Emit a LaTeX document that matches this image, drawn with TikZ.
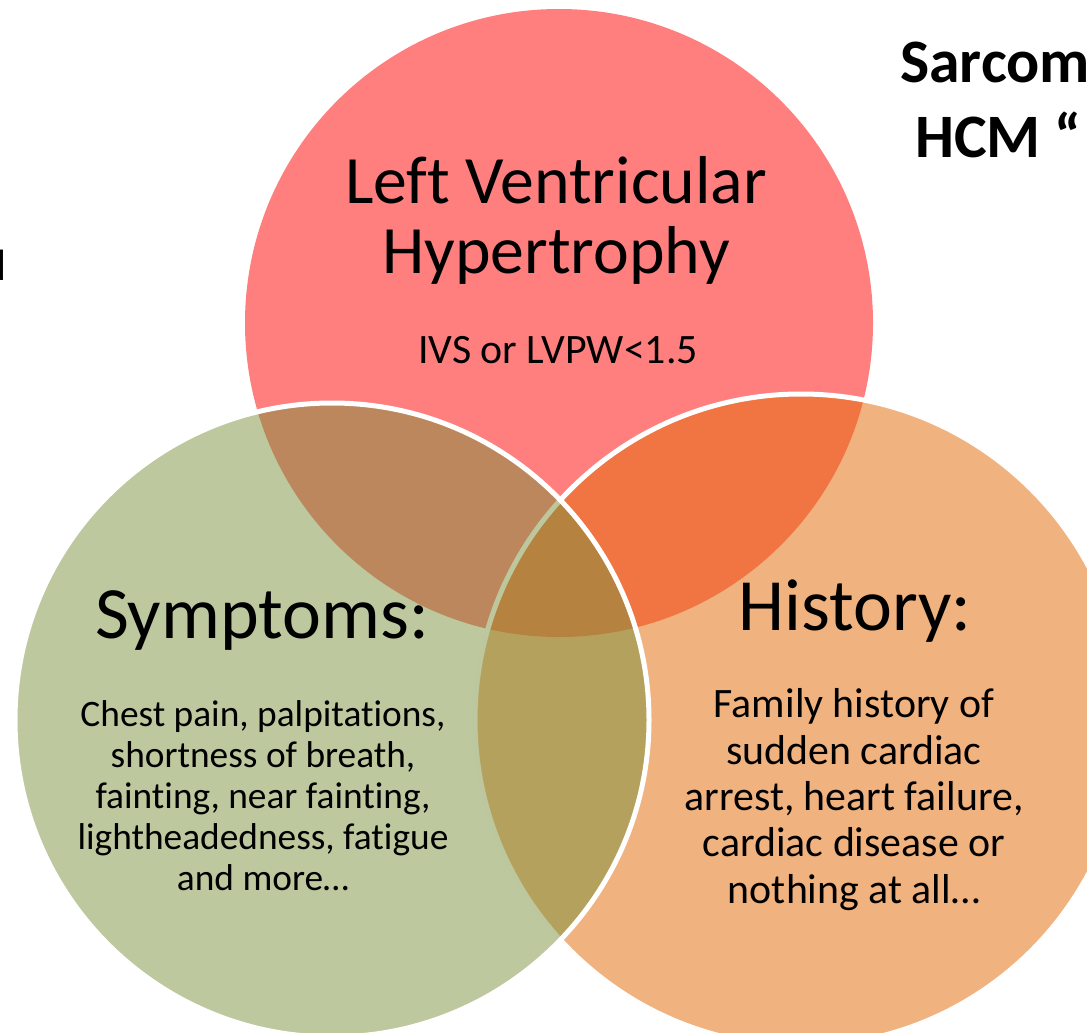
\documentclass[tikz,border=0pt]{standalone}
\usepackage{fontspec}
\setmainfont[Ligatures=NoCommon]{Carlito}
\usepackage{tikz}
\usetikzlibrary{positioning}

\definecolor{lvhred}{RGB}{255,0,0}
\definecolor{historange}{RGB}{227,107,10}
\definecolor{sympgreen}{RGB}{123,145,61}

\begin{document}
\begin{tikzpicture}[x=1bp,y=-1bp,line join=bevel,
  venn/.style={circle,inner sep=0pt,fill opacity=.5},
  heading/.style={inner sep=0pt,anchor=base,align=center,font=\fontsize{74}{80}\selectfont},
  bodytext/.style={inner sep=0pt,anchor=base,align=center,font=\fontsize{37.5}{41}\selectfont}]
\useasboundingbox (0,0) rectangle (1087,1033);
\clip (0,0) rectangle (1087,1033);
%%
  % Node: lvh
  \node[venn,minimum size=628bp,fill=lvhred] (lvh) at (559,323) {};
  % Node: hist
  \node[venn,minimum size=652bp,fill=historange,fill opacity=.52,draw=white,line width=5bp] (hist) at (801,720) {};
  % Node: symp
  \node[venn,minimum size=634bp,fill=sympgreen,draw=white,line width=5bp] (symp) at (332,720) {};
%%
  % Labels: lvh (base = last line)
  \node[heading,font=\fontsize{68}{70}\selectfont] (lvhtitle) at (556,273) {Left Ventricular\\Hypertrophy};
  \node[bodytext,font=\fontsize{42}{46}\selectfont] (lvhnote) at (558,363) {IVS or LVPW<1.5};
  % Labels: symp
  \node[heading] (symptitle) at (262,638) {Symptoms:};
  \node[bodytext] (sympnote) at (263,890) {Chest pain, palpitations,\\shortness of breath,\\fainting, near fainting,\\lightheadedness, fatigue\\and more…};
  % Labels: hist
  \node[heading] (histtitle) at (855,630) {History:};
  \node[bodytext,font=\fontsize{42}{46.5}\selectfont] (histnote) at (854,903) {Family history of\\sudden cardiac\\arrest, heart failure,\\cardiac disease or\\nothing at all…};
%%
  % Cut-off text at the edges
  \node[anchor=base west,inner sep=0pt,font=\bfseries\fontsize{62}{75}\selectfont] (sarc) at (900,82) {Sarcom};
  \node[anchor=base west,inner sep=0pt,font=\bfseries\fontsize{62}{75}\selectfont] (hcm) at (915,157) {HCM “};
  \node[anchor=base east,inner sep=0pt,font=\fontsize{44}{50}\selectfont] (frag) at (7,280) {d};
%
\end{tikzpicture}
\end{document}
